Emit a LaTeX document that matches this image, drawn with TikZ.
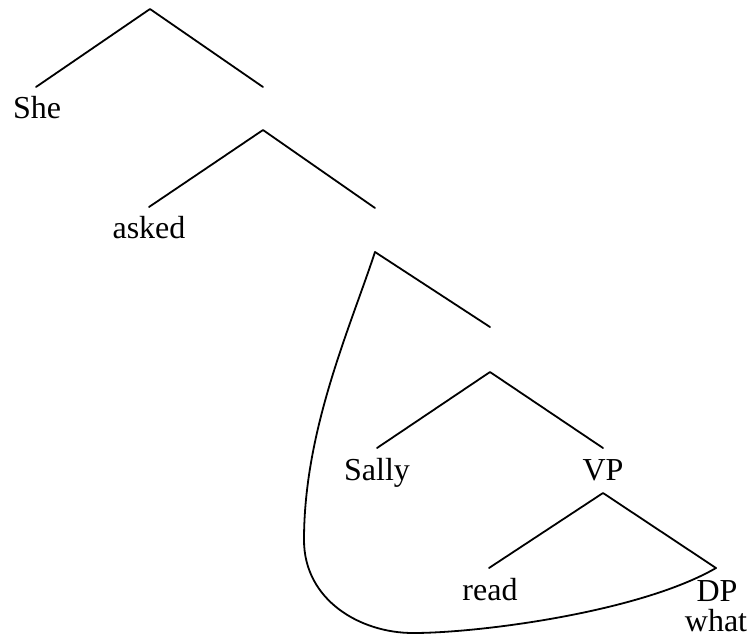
\documentclass[tikz,border=0pt]{standalone}
\usepackage{fontspec}
\setmainfont{Liberation Serif}
\begin{document}
\begin{tikzpicture}[x=1pt,y=-1pt,
  branch/.style={line width=1.8pt,line cap=round,line join=round},
  word/.style={anchor=base,inner sep=0pt,font=\fontsize{32}{38}\selectfont}]
\useasboundingbox (0,0) rectangle (750,638);

% branching points and branch ends
\coordinate (t1)  at (150,9);
\coordinate (t1l) at (36,87);
\coordinate (t1r) at (263,87);
\coordinate (t2)  at (263,130);
\coordinate (t2l) at (149,207);
\coordinate (t2r) at (375,208);
\coordinate (t3)  at (375,252);
\coordinate (t3r) at (490,327);
\coordinate (t4)  at (490,372);
\coordinate (t4l) at (377,448);
\coordinate (t4r) at (603,448);
\coordinate (vp)  at (603,493);
\coordinate (vpl) at (489,568);
\coordinate (vpr) at (716,568);

% words
\node[word] (she)   at (37,118)  {She};
\node[word] (asked) at (149,238) {asked};
\node[word] (sally) at (377,480) {Sally};
\node[word] (vplab) at (603,480) {VP};
\node[word] (read)  at (490,600) {read};
\node[word] (dp)    at (717,601) {DP};
\node[word] (what)  at (716,631) {what};

% branches
\draw[branch] (t1l) -- (t1) -- (t1r);
\draw[branch] (t2l) -- (t2) -- (t2r);
\draw[branch] (t3) -- (t3r);
\draw[branch] (t4l) -- (t4) -- (t4r);
\draw[branch] (vpl) -- (vp) -- (vpr);

% curve enclosing the embedded clause
\coordinate (cl) at (304,540);
\coordinate (cb) at (413,633);
\draw[branch] (t3) .. controls (350,328) and (304,430) .. (cl)
  .. controls (304,600) and (360,633) .. (cb)
  .. controls (480,633) and (640,612) .. (vpr);
\end{tikzpicture}
\end{document}
